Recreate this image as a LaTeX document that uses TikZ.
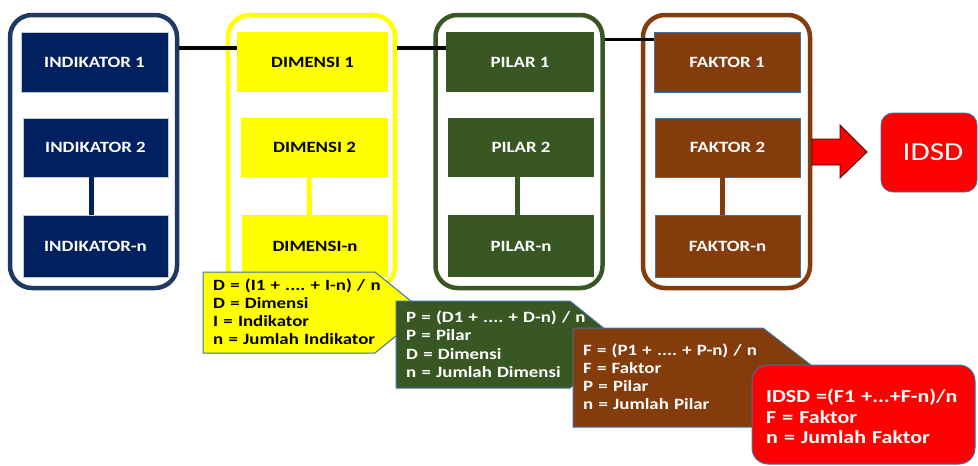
\documentclass[tikz,border=0pt]{standalone}
\usepackage{fontspec}
\setmainfont{Carlito}[FakeStretch=1.2]
\frenchspacing
\definecolor{navy}{HTML}{002060}
\definecolor{navyline}{HTML}{1F3864}
\definecolor{pgreen}{HTML}{385723}
\definecolor{fbrown}{HTML}{843C0C}
\definecolor{shapeline}{HTML}{41719C}
\definecolor{ylw}{HTML}{FFFF00}
\definecolor{rd}{HTML}{FF0000}
\begin{document}
\frenchspacing
\begin{tikzpicture}[x=1pt,y=-1pt,
  outer/.style={line width=4.5pt, rounded corners=22pt, minimum width=167pt, minimum height=273pt, inner sep=0pt, fill=white},
  bx/.style={inner sep=0pt, minimum width=146pt, minimum height=60pt, font=\fontsize{15.7}{18}\selectfont\bfseries, text=white},
  vconn/.style={line width=5pt},
  hconn/.style={line width=4.5pt, black},
  notebox/.style={draw=shapeline, line width=1pt},
  notetext/.style={anchor=base west, inner sep=0pt, text width=240pt, align=left, font=\fontsize{15.7}{18.2}\selectfont\bfseries\frenchspacing}
]
\clip (0,0) rectangle (978,466);
\useasboundingbox (0,0) rectangle (978,466);
\fill[white] (0,0) rectangle (978,466);

% outer columns
\node[outer, draw=navyline] (indo) at (93.5,151.5) {};
\node[outer, draw=ylw] (dimo) at (311.5,151.5) {};
\node[outer, draw=pgreen] (pilo) at (519,151.5) {};
\node[outer, draw=fbrown] (fako) at (726.5,151.5) {};

% INDIKATOR boxes
\node[bx, fill=navy, draw=white!75!navy, line width=0.8pt, minimum width=147pt] (ind1) at (94.5,62) {INDIKATOR 1};
\node[bx, fill=navy, draw=white!75!navy, line width=0.8pt, minimum width=145pt, minimum height=59pt] (ind2) at (95.5,147.5) {INDIKATOR 2};
\node[bx, fill=navy, draw=white!75!navy, line width=0.8pt, minimum width=145pt, minimum height=62pt] (ind3) at (95.5,246) {INDIKATOR-n};

% DIMENSI boxes
\node[bx, fill=ylw, text=black, minimum width=151pt] (dim1) at (312.5,62) {DIMENSI 1};
\node[bx, fill=ylw, text=black, minimum width=147pt, minimum height=59pt] (dim2) at (314.5,147.5) {DIMENSI 2};
\node[bx, fill=ylw, text=black, minimum width=146pt, minimum height=62pt] (dim3) at (315,246) {DIMENSI-n};

% PILAR boxes
\node[bx, fill=pgreen, minimum width=148pt] (pil1) at (520,62) {PILAR 1};
\node[bx, fill=pgreen, minimum width=146pt, minimum height=59pt] (pil2) at (521,147.5) {PILAR 2};
\node[bx, fill=pgreen, minimum width=146pt, minimum height=62pt] (pil3) at (521,246) {PILAR-n};

% FAKTOR boxes
\node[bx, fill=fbrown, draw=shapeline, line width=0.9pt, minimum width=146pt] (fak1) at (727,62) {FAKTOR 1};
\node[bx, fill=fbrown, draw=shapeline, line width=0.9pt, minimum width=145pt, minimum height=59pt] (fak2) at (727.5,147.5) {FAKTOR 2};
\node[bx, fill=fbrown, draw=shapeline, line width=0.9pt, minimum width=145pt, minimum height=62pt] (fak3) at (727.5,246) {FAKTOR-n};

% vertical connectors
\draw[vconn, navy] ([xshift=-4.5pt]ind2.south) -- ([xshift=-4.5pt]ind3.north);
\draw[vconn, ylw] ([xshift=-5.5pt]dim2.south) -- ([xshift=-5.5pt]dim3.north);
\draw[vconn, pgreen] ([xshift=-4pt]pil2.south) -- ([xshift=-4pt]pil3.north);
\draw[vconn, fbrown] ([xshift=-5.5pt]fak2.south) -- ([xshift=-5.5pt]fak3.north);

% horizontal connectors
\coordinate (h1) at (0,48);
\coordinate (h2) at (0,39);
\draw[hconn] (indo.east |- h1) -- (dim1.west |- h1);
\draw[hconn] (dimo.east |- h1) -- (pil1.west |- h1);
\draw[hconn, line width=3pt] (pilo.east |- h2) -- (fak1.west |- h2);

% block arrow and IDSD
\draw[fill=rd, draw=black!75!red, line width=0.8pt] (812,139) -- (840,139) -- (840,125) -- (867,152) -- (840,178) -- (840,165) -- (812,165) -- cycle;
\node[fill=rd, draw=shapeline, line width=0.9pt, rounded corners=12pt, minimum width=96pt, minimum height=79pt, inner sep=0pt, text=white, font=\fontsize{26}{30}\selectfont] (idsd) at (929,152.5) {\hspace*{8pt}IDSD};

% notes
\path[notebox, fill=ylw] (203,272) -- (375,272) -- (425,312.5) -- (375,353) -- (203,353) -- cycle;
\node[notetext, text=black] (ny) at (213,290) {D = (I1 + .... + I-n) / n\\D = Dimensi\\I = Indikator\\n = Jumlah Indikator};

\path[notebox, fill=pgreen] (396,301) -- (570,301) -- (624,344.5) -- (570,388) -- (396,388) -- cycle;
\node[notetext, text=white] (ng) at (406,322.7) {P = (D1 + .... + D-n) / n\\P = Pilar\\D = Dimensi\\n = Jumlah Dimensi};

\path[notebox, fill=fbrown] (573,328) -- (763,328) -- (827,377.5) -- (763,427) -- (573,427) -- cycle;
\node[notetext, text=white] (nb) at (583,355) {F = (P1 + .... + P-n) / n\\F = Faktor\\P = Pilar\\n = Jumlah Pilar};

\path[notebox, fill=rd, rounded corners=16pt] (752,365) rectangle (975,464);
\node[notetext, text=white, font=\fontsize{18.3}{20.3}\selectfont\bfseries\frenchspacing] (nr) at (766,402.7) {IDSD =(F1 +...+F-n)/n\\F = Faktor\\n = Jumlah Faktor};
\end{tikzpicture}
\end{document}
